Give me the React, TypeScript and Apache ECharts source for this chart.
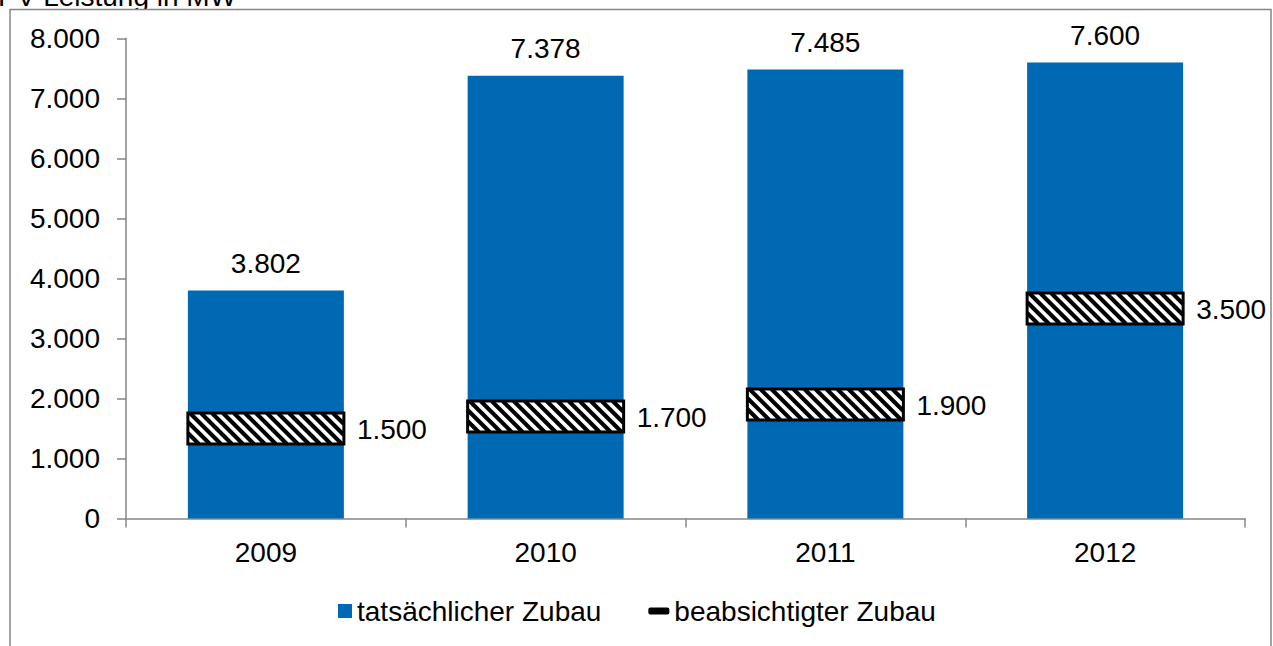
import React, { useEffect, useRef } from "react";
import * as echarts from "echarts";

const categories = ["2009", "2010", "2011", "2012"];
const actualValues = [3802, 7378, 7485, 7600];
const plannedValues = [1500, 1700, 1900, 3500];
const yTicks = { min: 0, max: 8000, interval: 1000 };
const seriesNames = ["tatsächlicher Zubau", "beabsichtigter Zubau"];
const titleText = "PV-Leistung in MW";

const FONT = "'Liberation Sans', Arial, sans-serif";
const BLUE = "#0069b4";
const GRAY = "#868686";

const fmt = (n: number) => String(Math.round(n)).replace(/\B(?=(\d{3})+(?!\d))/g, ".");

export default function App() {
  const ref = useRef<HTMLDivElement>(null);
  useEffect(() => {
    if (!ref.current) return;
    const chart = echarts.init(ref.current, undefined, { renderer: "svg" });
    const option: any = {
      animation: false,
      backgroundColor: "#ffffff",
      textStyle: { fontFamily: FONT, color: "#000" },
      graphic: [
        {
          type: "text",
          x: -2,
          y: -18,
          z: -20,
          style: {
            text: titleText,
            fontFamily: FONT,
            fontSize: 28,
            fill: "#000",
          },
        },
        {
          type: "rect",
          z: -10,
          silent: true,
          shape: { x: 10, y: 9.5, width: 1261, height: 700 },
          style: { fill: "#fff", stroke: GRAY, lineWidth: 1.5 },
        },
      ],
      grid: { left: 126, right: 28, top: 38.5, bottom: 127.5, containLabel: false },
      legend: {
        left: 326,
        top: 592,
        itemWidth: 21,
        itemHeight: 14,
        itemGap: 47,
        textStyle: { fontFamily: FONT, fontSize: 28, color: "#000" },
        data: [
          {
            name: seriesNames[0],
            icon: "path://M0,0 M7,0 L21,0 L21,14 L7,14 Z",
            itemStyle: { color: BLUE },
          },
          {
            name: seriesNames[1],
            icon: "path://M0,0 M21,14 M2,3.5 L19,3.5 Q21,3.5 21,5.5 L21,8.5 Q21,10.5 19,10.5 L2,10.5 Q0,10.5 0,8.5 L0,5.5 Q0,3.5 2,3.5 Z",
            itemStyle: { color: "#000" },
          },
        ],
      },
      xAxis: {
        type: "category",
        data: categories,
        axisLine: { lineStyle: { color: GRAY, width: 1.5 } },
        axisTick: { show: true, length: 9, inside: false, alignWithLabel: false, lineStyle: { color: GRAY, width: 1.5 } },
        axisLabel: { fontFamily: FONT, fontSize: 28, color: "#000", margin: 20 },
        splitLine: { show: false },
      },
      yAxis: {
        type: "value",
        min: yTicks.min,
        max: yTicks.max,
        interval: yTicks.interval,
        axisLine: { show: true, lineStyle: { color: GRAY, width: 1.5 } },
        axisTick: { show: true, length: 9, inside: false, lineStyle: { color: GRAY, width: 1.5 } },
        axisLabel: { fontFamily: FONT, fontSize: 28, color: "#000", margin: 26, formatter: (v: number) => fmt(v) },
        splitLine: { show: false },
      },
      series: [
        {
          name: seriesNames[0],
          type: "bar",
          data: actualValues,
          barWidth: 156,
          itemStyle: { color: BLUE },
          label: {
            show: true,
            position: "top",
            distance: 13,
            fontFamily: FONT,
            fontSize: 28,
            color: "#000",
            formatter: (p: any) => fmt(p.value),
          },
          z: 2,
        },
        {
          name: seriesNames[1],
          type: "custom",
          z: 5,
          itemStyle: { color: "#000" },
          data: plannedValues.map((v, i) => [i, v]),
          encode: { x: 0, y: 1 },
          renderItem: (params: any, api: any) => {
            const idx = api.value(0);
            const val = api.value(1);
            const c = api.coord([idx, val]);
            const bandW = api.size([1, 0])[0];
            const w = bandW * (156 / 279.75);
            const h = 31;
            const x0 = c[0] - w / 2;
            const x1 = c[0] + w / 2;
            const y0 = c[1] - h / 2;
            const y1 = c[1] + h / 2;
            const period = 11;
            const children: any[] = [
              {
                type: "rect",
                shape: { x: x0, y: y0, width: w, height: h },
                style: { fill: "#fff", stroke: "none" },
              },
            ];
            for (let k = x0 - y1; k <= x1 - y0; k += period) {
              const ya = Math.max(y0, x0 - k);
              const yb = Math.min(y1, x1 - k);
              if (yb > ya) {
                children.push({
                  type: "line",
                  shape: { x1: ya + k, y1: ya, x2: yb + k, y2: yb },
                  style: { stroke: "#000", lineWidth: 4, lineCap: "butt" },
                });
              }
            }
            children.push({
              type: "rect",
              shape: { x: x0, y: y0, width: w, height: h },
              style: { fill: "none", stroke: "#000", lineWidth: 3 },
            });
            children.push({
              type: "text",
              x: x1 + 13,
              y: c[1] + 1,
              style: {
                text: fmt(val),
                fontFamily: FONT,
                fontSize: 28,
                fill: "#000",
                textAlign: "left",
                textVerticalAlign: "middle",
                verticalAlign: "middle",
              },
            });
            return { type: "group", children };
          },
        },
      ],
    };
    chart.setOption(option);
    return () => chart.dispose();
  }, []);
  return (
    <div
      ref={ref}
      style={{ position: "absolute", left: 0, top: 0, width: 1273, height: 646 }}
    />
  );
}
